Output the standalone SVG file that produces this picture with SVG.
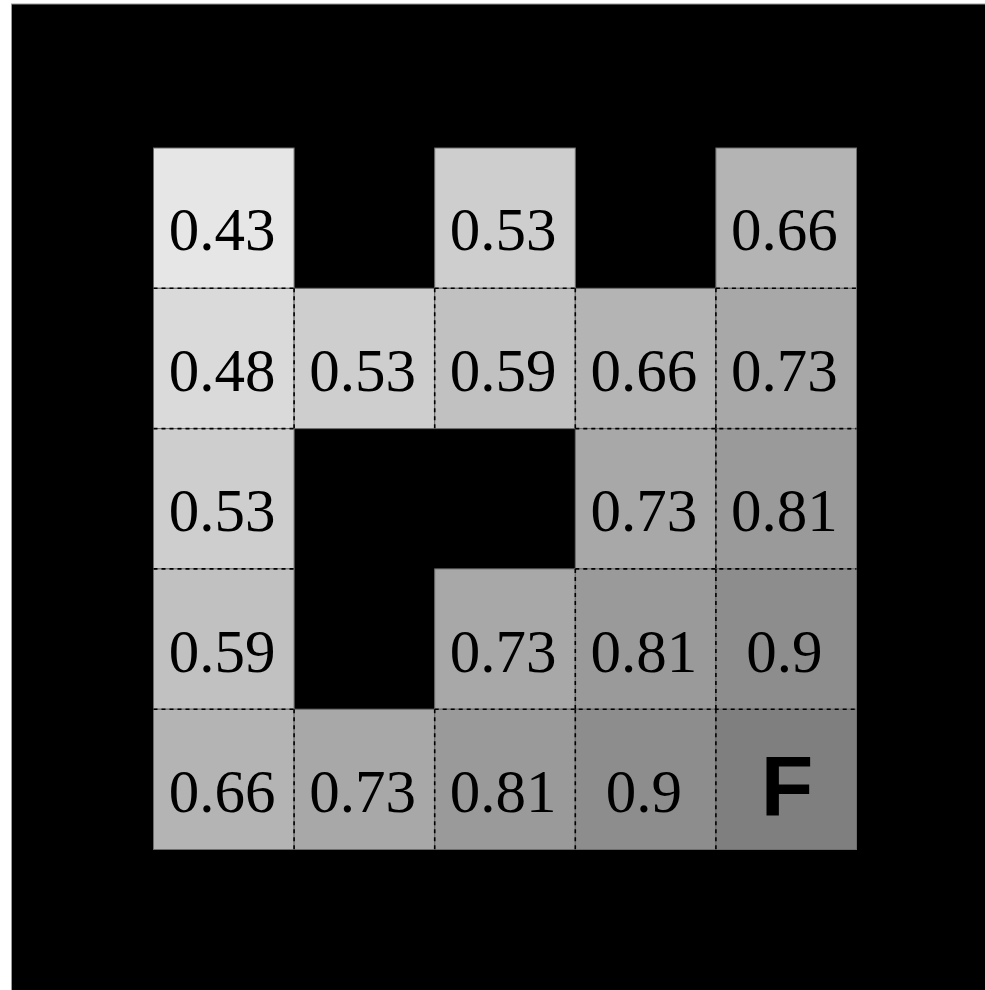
<svg xmlns="http://www.w3.org/2000/svg" width="985" height="990" viewBox="0 0 985 990">
<style>
.cell{stroke:#6e6e6e;stroke-width:1}
.v{font-family:"Liberation Serif","Times New Roman",serif;font-size:61px;fill:#000;text-anchor:middle}
.f{font-family:"Liberation Sans",Arial,sans-serif;font-weight:bold;font-size:86px;fill:#000;text-anchor:middle}
.d{stroke:#000;stroke-width:1.6;stroke-dasharray:4,4;fill:none}
</style>
<rect x="0" y="0" width="985" height="990" fill="#ffffff"/>
<rect x="11.5" y="4" width="975" height="990" fill="#000" stroke="#9a9a9a" stroke-width="1"/>
<g id="cells">
<g id="c00"><rect class="cell" x="153.5" y="148" width="140.6" height="140.3" fill="#e6e6e6"/><text class="v" x="222" y="250">0.43</text></g>
<g id="c02"><rect class="cell" x="434.7" y="148" width="140.6" height="140.3" fill="#cecece"/><text class="v" x="503.2" y="250">0.53</text></g>
<g id="c04"><rect class="cell" x="715.9" y="148" width="140.6" height="140.3" fill="#b4b4b4"/><text class="v" x="784.4" y="250">0.66</text></g>
<g id="c10"><rect class="cell" x="153.5" y="288.3" width="140.6" height="140.3" fill="#dadada"/><text class="v" x="222" y="391">0.48</text></g>
<g id="c11"><rect class="cell" x="294.1" y="288.3" width="140.6" height="140.3" fill="#cecece"/><text class="v" x="362.6" y="391">0.53</text></g>
<g id="c12"><rect class="cell" x="434.7" y="288.3" width="140.6" height="140.3" fill="#c1c1c1"/><text class="v" x="503.2" y="391">0.59</text></g>
<g id="c13"><rect class="cell" x="575.3" y="288.3" width="140.6" height="140.3" fill="#b4b4b4"/><text class="v" x="643.8" y="391">0.66</text></g>
<g id="c14"><rect class="cell" x="715.9" y="288.3" width="140.6" height="140.3" fill="#a8a8a8"/><text class="v" x="784.4" y="391">0.73</text></g>
<g id="c20"><rect class="cell" x="153.5" y="428.6" width="140.6" height="140.3" fill="#cecece"/><text class="v" x="222" y="531.3">0.53</text></g>
<g id="c23"><rect class="cell" x="575.3" y="428.6" width="140.6" height="140.3" fill="#a8a8a8"/><text class="v" x="643.8" y="531.3">0.73</text></g>
<g id="c24"><rect class="cell" x="715.9" y="428.6" width="140.6" height="140.3" fill="#9a9a9a"/><text class="v" x="784.4" y="531.3">0.81</text></g>
<g id="c30"><rect class="cell" x="153.5" y="568.9" width="140.6" height="140.3" fill="#c1c1c1"/><text class="v" x="222" y="671.6">0.59</text></g>
<g id="c32"><rect class="cell" x="434.7" y="568.9" width="140.6" height="140.3" fill="#a8a8a8"/><text class="v" x="503.2" y="671.6">0.73</text></g>
<g id="c33"><rect class="cell" x="575.3" y="568.9" width="140.6" height="140.3" fill="#9a9a9a"/><text class="v" x="643.8" y="671.6">0.81</text></g>
<g id="c34"><rect class="cell" x="715.9" y="568.9" width="140.6" height="140.3" fill="#8d8d8d"/><text class="v" x="784.4" y="671.6">0.9</text></g>
<g id="c40"><rect class="cell" x="153.5" y="709.2" width="140.6" height="140.3" fill="#b4b4b4"/><text class="v" x="222" y="811.9">0.66</text></g>
<g id="c41"><rect class="cell" x="294.1" y="709.2" width="140.6" height="140.3" fill="#a8a8a8"/><text class="v" x="362.6" y="811.9">0.73</text></g>
<g id="c42"><rect class="cell" x="434.7" y="709.2" width="140.6" height="140.3" fill="#9a9a9a"/><text class="v" x="503.2" y="811.9">0.81</text></g>
<g id="c43"><rect class="cell" x="575.3" y="709.2" width="140.6" height="140.3" fill="#8d8d8d"/><text class="v" x="643.8" y="811.9">0.9</text></g>
<g id="c44"><rect class="cell" x="715.9" y="709.2" width="140.6" height="140.3" fill="#7f7f7f"/><text class="f" x="787" y="816">F</text></g>
</g>
<g id="connectors">
<path class="d" d="M153.5 288.3H294.1M434.7 288.3H575.3M715.9 288.3H856.5"/>
<path class="d" d="M153.5 428.6H294.1M575.3 428.6H856.5"/>
<path class="d" d="M153.5 568.9H294.1M575.3 568.9H856.5"/>
<path class="d" d="M153.5 709.2H294.1M434.7 709.2H856.5"/>
<path class="d" d="M294.1 288.3V428.6M434.7 288.3V428.6M575.3 288.3V428.6M715.9 288.3V428.6"/>
<path class="d" d="M715.9 428.6V568.9"/>
<path class="d" d="M575.3 568.9V709.2M715.9 568.9V709.2"/>
<path class="d" d="M294.1 709.2V849.5M434.7 709.2V849.5M575.3 709.2V849.5M715.9 709.2V849.5"/>
</g>
</svg>
